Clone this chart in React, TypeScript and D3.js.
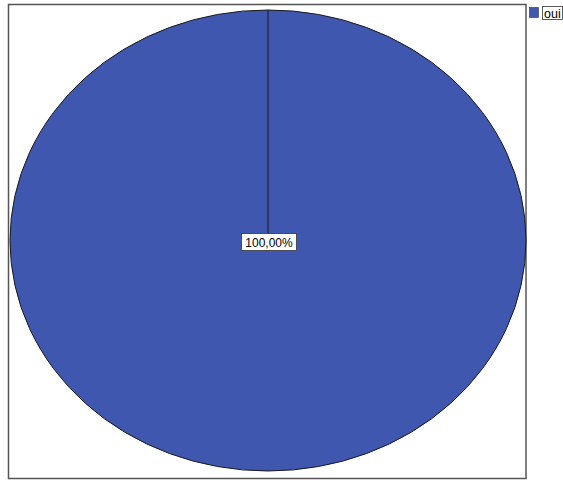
import React from "react";
import * as d3 from "d3";

const categories = ["oui"];
const values = [100];
const labels = ["100,00%"];

export default function App() {
  const W = 563, H = 480;
  const cx = 268, cy = 240.5, rx = 258, ry = 230.5;
  const pie = d3.pie<number>().sort(null).value((d) => d)(values);
  const arc = d3.arc<d3.PieArcDatum<number>>().innerRadius(0).outerRadius(1);
  const color = "#3F57AE";
  return (
    <svg width={W} height={H} style={{ position: "absolute", left: 0, top: 0 }}>
      <rect x={0} y={0} width={W} height={H} fill="#fff" />
      <rect x={8.5} y={4.5} width={517.5} height={474} fill="#fff" stroke="#555" strokeWidth={1.5} />
      <g transform={`translate(${cx},${cy}) scale(${rx},${ry})`}>
        {pie.map((p, i) => (
          <path key={i} d={arc(p) || ""} fill={color} stroke="#1a1a1a" strokeWidth={1} vectorEffect="non-scaling-stroke" />
        ))}
      </g>
      {pie.map((p, i) => (
        <line key={"l" + i} x1={cx} y1={cy} x2={cx + rx * Math.sin(p.startAngle)} y2={cy - ry * Math.cos(p.startAngle)} stroke="#1a1a1a" strokeWidth={1} />
      ))}
      {labels.map((t, i) => (
        <g key={"t" + i}>
          <rect x={241.5} y={233.5} width={55} height={17} fill="#fff" stroke="#333" strokeWidth={0.8} />
          <text x={269} y={246.5} textAnchor="middle" fontFamily="Arial, Liberation Sans, sans-serif" fontSize={12} fill="#000">{t}</text>
        </g>
      ))}
      {categories.map((c, i) => (
        <g key={"g" + i}>
          <rect x={529.5} y={7.5} width={9} height={10} fill={color} stroke="#333" strokeWidth={0.6} />
          <rect x={542.5} y={6.5} width={20} height={13} fill="#fff" stroke="#333" strokeWidth={0.8} />
          <text x={544} y={17.5} fontFamily="Arial, Liberation Sans, sans-serif" fontSize={12.5} fill="#000">{c}</text>
        </g>
      ))}
    </svg>
  );
}
